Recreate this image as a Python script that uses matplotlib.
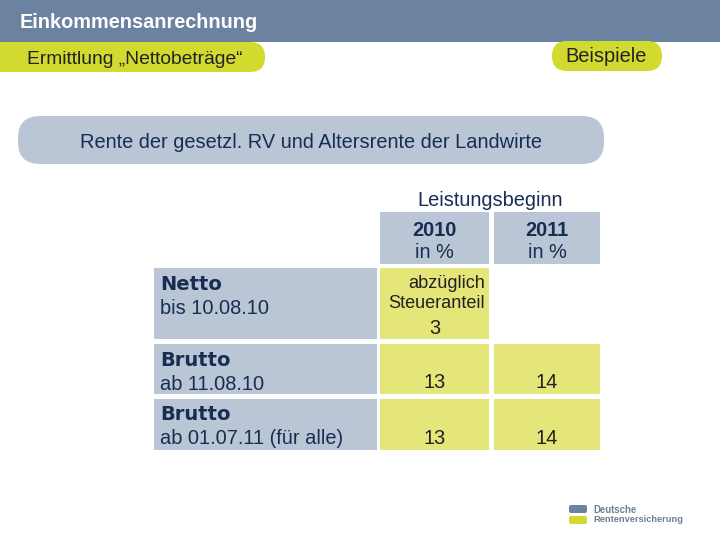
import matplotlib.pyplot as plt
from matplotlib.patches import FancyBboxPatch, Rectangle

plt.rcParams['font.family'] = ['Liberation Sans', 'DejaVu Sans']

# Inhalt der Folie
titel = 'Einkommensanrechnung'
untertitel = 'Ermittlung \u201eNettobetr\u00e4ge\u201c'
beispiele = 'Beispiele'
rubrik = 'Rente der gesetzl. RV und Altersrente der Landwirte'
kopf = 'Leistungsbeginn'
jahre = ['2010', '2011']
einheit = 'in %'
zeilen_fett = ['Netto', 'Brutto', 'Brutto']
zeilen_text = ['bis 10.08.10', 'ab 11.08.10', 'ab 01.07.11 (f\u00fcr alle)']
werte_2010 = [3, 13, 13]
werte_2011 = [None, 14, 14]
hinweis_2010 = ['abz\u00fcglich', 'Steueranteil']

GRAU = '#bac6d5'
GELB = '#e4e679'
PILL = '#d3da2f'
BLAU = '#6b83a1'
NAVY = '#172d52'
DUNKEL = '#222222'
FS = 14.4
DY = 2  # Text etwas tiefer setzen

fig = plt.figure(figsize=(7.2, 5.4), dpi=100)
ax = fig.add_axes([0, 0, 1, 1])
ax.set_xlim(0, 720)
ax.set_ylim(540, 0)
ax.axis('off')

# Kopfzeile
ax.add_patch(Rectangle((0, 0), 720, 42, color=BLAU, lw=0))
ax.text(20, 21 + DY, titel, color='white', fontsize=14.3, fontweight='bold', va='center', ha='left')

# gelbe Pillen
ax.add_patch(FancyBboxPatch((-20, 42), 285, 30, boxstyle='round,pad=0,rounding_size=15', fc=PILL, ec='none'))
ax.text(27, 57 + DY, untertitel, color=DUNKEL, fontsize=13.9, va='center', ha='left')
ax.add_patch(FancyBboxPatch((552, 41), 110, 30, boxstyle='round,pad=0,rounding_size=15', fc=PILL, ec='none'))
ax.text(606, 55 + DY, beispiele, color=DUNKEL, fontsize=FS, va='center', ha='center')

# graue Rubrik
ax.add_patch(FancyBboxPatch((18, 116), 586, 48, boxstyle='round,pad=0,rounding_size=22', fc=GRAU, ec='none'))
ax.text(311, 141 + DY, rubrik, color=NAVY, fontsize=FS, va='center', ha='center')

# Tabelle
spalten = [(380, 109), (494, 106)]
ax.text(490, 198 + DY, kopf, color=NAVY, fontsize=FS, va='center', ha='center')
for (x0, w), jahr in zip(spalten, jahre):
    ax.add_patch(Rectangle((x0, 212), w, 52, color=GRAU, lw=0))
    ax.text(x0 + w / 2, 228 + DY, jahr, color=NAVY, fontsize=FS, fontweight='bold', va='center', ha='center')
    ax.text(x0 + w / 2, 251 + DY, einheit, color=NAVY, fontsize=FS, va='center', ha='center')

zeilen = [(268, 71), (344, 50), (399, 51)]
for i, (y0, h) in enumerate(zeilen):
    ax.add_patch(Rectangle((154, y0), 223, h, color=GRAU, lw=0))
    ax.text(160, y0 + 14 + DY, zeilen_fett[i], color=NAVY, fontsize=14, fontweight='bold',
            family=['DejaVu Sans'], va='center', ha='left')
    ax.text(160, y0 + 38 + DY, zeilen_text[i], color=NAVY, fontsize=FS, va='center', ha='left')
    for (x0, w), werte in zip(spalten, [werte_2010, werte_2011]):
        if werte[i] is None:
            continue
        ax.add_patch(Rectangle((x0, y0), w, h, color=GELB, lw=0))
        ax.text(x0 + w / 2, y0 + h - 13 + DY, str(werte[i]), color=DUNKEL, fontsize=FS, va='center', ha='center')

ax.text(485, 282 + DY, hinweis_2010[0], color=DUNKEL, fontsize=13.1, va='center', ha='right')
ax.text(485, 302 + DY, hinweis_2010[1], color=DUNKEL, fontsize=13.1, va='center', ha='right')

# Logo
ax.add_patch(FancyBboxPatch((569, 505), 18, 8, boxstyle='round,pad=0,rounding_size=2', fc='#6b83a1', ec='none'))
ax.add_patch(FancyBboxPatch((569, 516), 18, 8, boxstyle='round,pad=0,rounding_size=2', fc='#d3da2f', ec='none'))
ax.text(593, 510, 'Deutsche', color='#6e7f92', fontsize=6.9, fontweight='bold', va='center', ha='left')
ax.text(593, 520, 'Rentenversicherung', color='#6e7f92', fontsize=6.7, fontweight='bold', va='center', ha='left')

fig.savefig('out.png', dpi=100)
